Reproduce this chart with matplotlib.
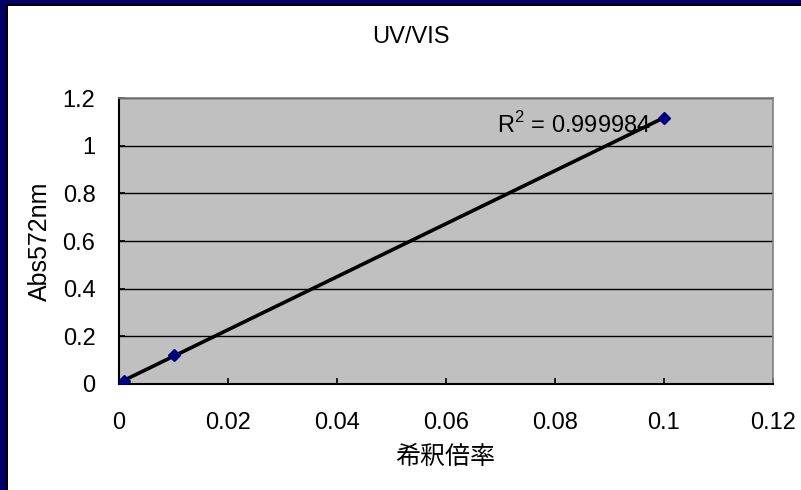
import numpy as np
import matplotlib
matplotlib.use("Agg")
import matplotlib.pyplot as plt
from matplotlib.patches import Rectangle

# Data
dilution = [0.001, 0.01, 0.1]
absorbance = [0.012, 0.121, 1.117]
x_ticks = [0, 0.02, 0.04, 0.06, 0.08, 0.1, 0.12]
x_tick_labels = ["0", "0.02", "0.04", "0.06", "0.08", "0.1", "0.12"]
y_ticks = [0, 0.2, 0.4, 0.6, 0.8, 1.0, 1.2]
y_tick_labels = ["0", "0.2", "0.4", "0.6", "0.8", "1", "1.2"]
title = "UV/VIS"
xlabel = "希釈倍率"
ylabel = "Abs572nm"
r2_text = "R$^2$ = 0.999984"

plt.rcParams['font.family'] = ['Liberation Sans', 'Noto Sans CJK JP', 'DejaVu Sans']
plt.rcParams['mathtext.fontset'] = 'custom'
plt.rcParams['mathtext.rm'] = 'Liberation Sans'

W, H = 801, 490
fig = plt.figure(figsize=(W / 100, H / 100), dpi=100)
fig.patch.set_facecolor('white')

# Border (top and left)
def px_rect(x, y, w, h, color):
    fig.patches.append(Rectangle((x / W, 1 - (y + h) / H), w / W, h / H,
                                 transform=fig.transFigure, color=color, lw=0, zorder=0))
px_rect(0, 0, W, 4, '#000066')
px_rect(0, 4, W, 2, '#000000')
px_rect(0, 0, 6, H, '#000066')
px_rect(6, 4, 2, H - 4, '#000000')

left, right, top, bottom = 119, 773, 98, 384
ax = fig.add_axes([left / W, 1 - bottom / H, (right - left) / W, (bottom - top) / H])
ax.set_facecolor('#C0C0C0')

ax.set_xlim(0, 0.12)
ax.set_ylim(0, 1.2)
ax.set_xticks(x_ticks)
ax.set_xticklabels(x_tick_labels)
ax.set_yticks(y_ticks)
ax.set_yticklabels(y_tick_labels)
ax.tick_params(axis='both', direction='in', length=4, width=1.2, labelsize=17,
               colors='black')
ax.tick_params(axis='x', pad=20)
ax.tick_params(axis='y', pad=17)
ax.tick_params(top=False, right=False)

for y in y_ticks[1:]:
    ax.axhline(y, color='black', lw=1.0, zorder=1)

for s in ['left', 'bottom']:
    ax.spines[s].set_color('black')
    ax.spines[s].set_linewidth(1.5)
for s in ['right', 'top']:
    ax.spines[s].set_color('#808080')
    ax.spines[s].set_linewidth(1.2)

# Trendline
k, b = np.polyfit(dilution, absorbance, 1)
xs = np.array([min(dilution), max(dilution)])
ax.plot(xs, k * xs + b, color='black', lw=2.6, zorder=3, solid_capstyle='butt')

ax.plot(dilution, absorbance, linestyle='none', marker='D', markersize=6.5,
        color='#000080', zorder=4)

ax.text(0.0694, 1.053, r2_text, fontsize=17, va='baseline', ha='left', zorder=2)

fig.text(411 / W, 1 - 37 / H, title, fontsize=17, ha='center', va='center')
fig.text(445 / W, 1 - 457 / H, xlabel, fontsize=18, ha='center', va='center',
         family=['Noto Sans CJK JP', 'DejaVu Sans'])
fig.text(40 / W, 1 - 241 / H, ylabel, fontsize=18, ha='center', va='center',
         rotation=90)

fig.savefig('out.png', dpi=100, facecolor='white')
